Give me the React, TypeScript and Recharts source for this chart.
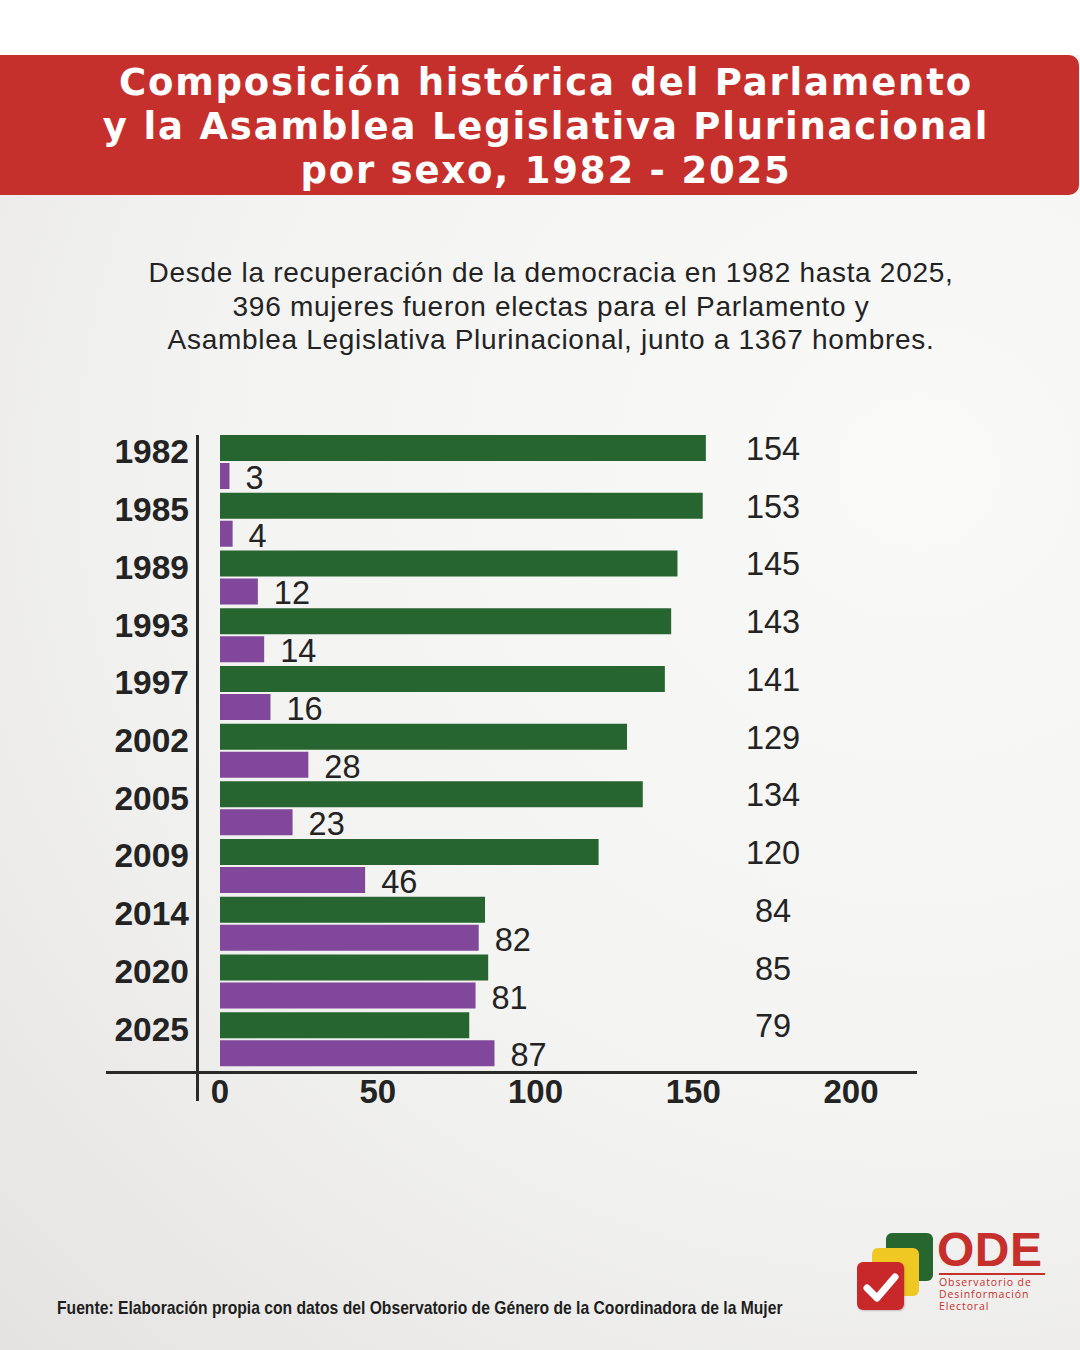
import { BarChart, Bar, XAxis, YAxis, LabelList } from "recharts";

const YEARS = ["1982", "1985", "1989", "1993", "1997", "2002", "2005", "2009", "2014", "2020", "2025"];
const MEN = [154, 153, 145, 143, 141, 129, 134, 120, 84, 85, 79];
const WOMEN = [3, 4, 12, 14, 16, 28, 23, 46, 82, 81, 87];
const X_TICKS = [0, 50, 100, 150, 200];

const GREEN = "#266530";
const PURPLE = "#80479a";
const INK = "#232323";
const RED = "#c6302c";

const data = YEARS.map((year, i) => ({ year, hombres: MEN[i], mujeres: WOMEN[i] }));

function YearTick({ x, y, payload }: any) {
  return (
    <text
      x={x}
      y={y - 10}
      textAnchor="end"
      dominantBaseline="central"
      fontFamily="Liberation Sans, Arial, sans-serif"
      fontWeight={700}
      fontSize={33.5}
      fill={INK}
    >
      {payload.value}
    </text>
  );
}

function ValueTick({ x, y, payload }: any) {
  return (
    <text
      x={x}
      y={y + 21}
      textAnchor="middle"
      dominantBaseline="central"
      fontFamily="Liberation Sans, Arial, sans-serif"
      fontWeight={700}
      fontSize={33}
      fill={INK}
    >
      {payload.value}
    </text>
  );
}

// men's totals sit in one column to the right of the bars
function MenLabel({ x, y, height, value }: any) {
  return (
    <text
      x={x + 553}
      y={y + height / 2 + 1}
      textAnchor="middle"
      dominantBaseline="central"
      fontFamily="Liberation Sans, Arial, sans-serif"
      fontSize={32.5}
      fill={INK}
    >
      {value}
    </text>
  );
}

function WomenLabel({ x, y, width, height, value }: any) {
  return (
    <text
      x={x + width + 16}
      y={y + height / 2 + 2}
      textAnchor="start"
      dominantBaseline="central"
      fontFamily="Liberation Sans, Arial, sans-serif"
      fontSize={32.5}
      fill={INK}
    >
      {value}
    </text>
  );
}

function Logo() {
  const sq = (left: number, top: number, bg: string) => ({
    position: "absolute" as const,
    left,
    top,
    width: 47,
    height: 48,
    borderRadius: 6,
    background: bg,
  });
  const small = (top: number) => ({
    position: "absolute" as const,
    left: 939,
    top,
    fontFamily: "Open Sans, sans-serif",
    fontSize: 10.5,
    lineHeight: "11px",
    letterSpacing: 0.9,
    color: RED,
    whiteSpace: "nowrap" as const,
  });
  return (
    <div style={{ position: "absolute", left: 0, top: 0 }}>
      <div style={sq(886, 1233, "#27662f")} />
      <div style={sq(872, 1248, "#f0c823")} />
      <div style={{ ...sq(857, 1262, "#c8282a"), boxShadow: "1px 1px 2px rgba(0,0,0,0.2)" }}>
        <svg width={47} height={48} style={{ position: "absolute", left: 0, top: 0 }}>
          <polyline
            points="10,26 20,36 38,15"
            fill="none"
            stroke="#fff"
            strokeWidth={7}
            strokeLinecap="round"
            strokeLinejoin="round"
          />
        </svg>
      </div>
      <div
        style={{
          position: "absolute",
          left: 937,
          top: 1224,
          fontFamily: "Liberation Sans, Arial, sans-serif",
          fontWeight: 700,
          fontSize: 48,
          lineHeight: "52px",
          color: RED,
          letterSpacing: 0.5,
          whiteSpace: "nowrap",
        }}
      >
        ODE
      </div>
      <div style={{ position: "absolute", left: 939, top: 1273, width: 106, height: 2, background: RED }} />
      <div style={small(1276.5)}>Observatorio de</div>
      <div style={small(1288.5)}>Desinformación</div>
      <div style={small(1300.5)}>Electoral</div>
    </div>
  );
}

export default function App() {
  return (
    <div
      style={{
        position: "absolute",
        left: 0,
        top: 0,
        width: 1080,
        height: 1350,
        overflow: "hidden",
        background:
          "radial-gradient(ellipse at 85% 35%, #f9f9f8 0%, #f3f3f1 55%, #e4e3e1 100%)",
      }}
    >
      <div style={{ position: "absolute", left: 0, top: 0, width: 1080, height: 55, background: "#ffffff" }} />
      <div
        style={{
          position: "absolute",
          left: 0,
          top: 55,
          width: 1079,
          height: 140,
          background: RED,
          borderRadius: "0 10px 10px 0",
        }}
      />
      <div
        style={{
          position: "absolute",
          left: 12,
          top: 61,
          width: 1068,
          textAlign: "center",
          color: "#fff",
          fontFamily: "DejaVu Sans, sans-serif",
          fontWeight: 700,
          fontSize: 37,
          letterSpacing: 1.8,
          lineHeight: "44px",
          whiteSpace: "nowrap",
        }}
      >
        Composición histórica del Parlamento
        <br />y la Asamblea Legislativa Plurinacional
        <br />
        por sexo, 1982 - 2025
      </div>
      <div
        style={{
          position: "absolute",
          left: 22,
          top: 256,
          width: 1058,
          textAlign: "center",
          color: INK,
          fontFamily: "Liberation Sans, Arial, sans-serif",
          fontSize: 28,
          letterSpacing: 0.7,
          lineHeight: "33.5px",
          whiteSpace: "nowrap",
        }}
      >
        Desde la recuperación de la democracia en 1982 hasta 2025,
        <br />
        396 mujeres fueron electas para el Parlamento y
        <br />
        Asamblea Legislativa Plurinacional, junto a 1367 hombres.
      </div>

      <div style={{ position: "absolute", left: 0, top: 0 }}>
        <BarChart
          width={1080}
          height={1130}
          data={data}
          layout="vertical"
          barSize={26}
          barGap={2}
          margin={{ top: 433, right: 229, bottom: 0, left: 100 }}
        >
          <XAxis
            type="number"
            domain={[0, 200]}
            ticks={X_TICKS}
            axisLine={false}
            tickLine={false}
            tickSize={0}
            tick={<ValueTick />}
            height={62}
          />
          <YAxis
            type="category"
            dataKey="year"
            width={120}
            axisLine={false}
            tickLine={false}
            tickSize={0}
            tickMargin={31}
            tick={<YearTick />}
            interval={0}
          />
          <Bar dataKey="hombres" fill={GREEN} isAnimationActive={false}>
            <LabelList dataKey="hombres" content={<MenLabel />} />
          </Bar>
          <Bar dataKey="mujeres" fill={PURPLE} isAnimationActive={false}>
            <LabelList dataKey="mujeres" content={<WomenLabel />} />
          </Bar>
        </BarChart>
      </div>

      <div style={{ position: "absolute", left: 196, top: 435, width: 3, height: 666, background: "#2a2a2a" }} />
      <div style={{ position: "absolute", left: 106, top: 1071, width: 811, height: 3, background: "#2a2a2a" }} />

      <div
        style={{
          position: "absolute",
          left: 57,
          top: 1297,
          fontFamily: "Liberation Sans, Arial, sans-serif",
          fontWeight: 700,
          fontSize: 19,
          color: "#1e1e1e",
          whiteSpace: "nowrap",
          transform: "scaleX(0.825)",
          transformOrigin: "left center",
        }}
      >
        Fuente: Elaboración propia con datos del Observatorio de Género de la Coordinadora de la Mujer
      </div>
      <Logo />
    </div>
  );
}
